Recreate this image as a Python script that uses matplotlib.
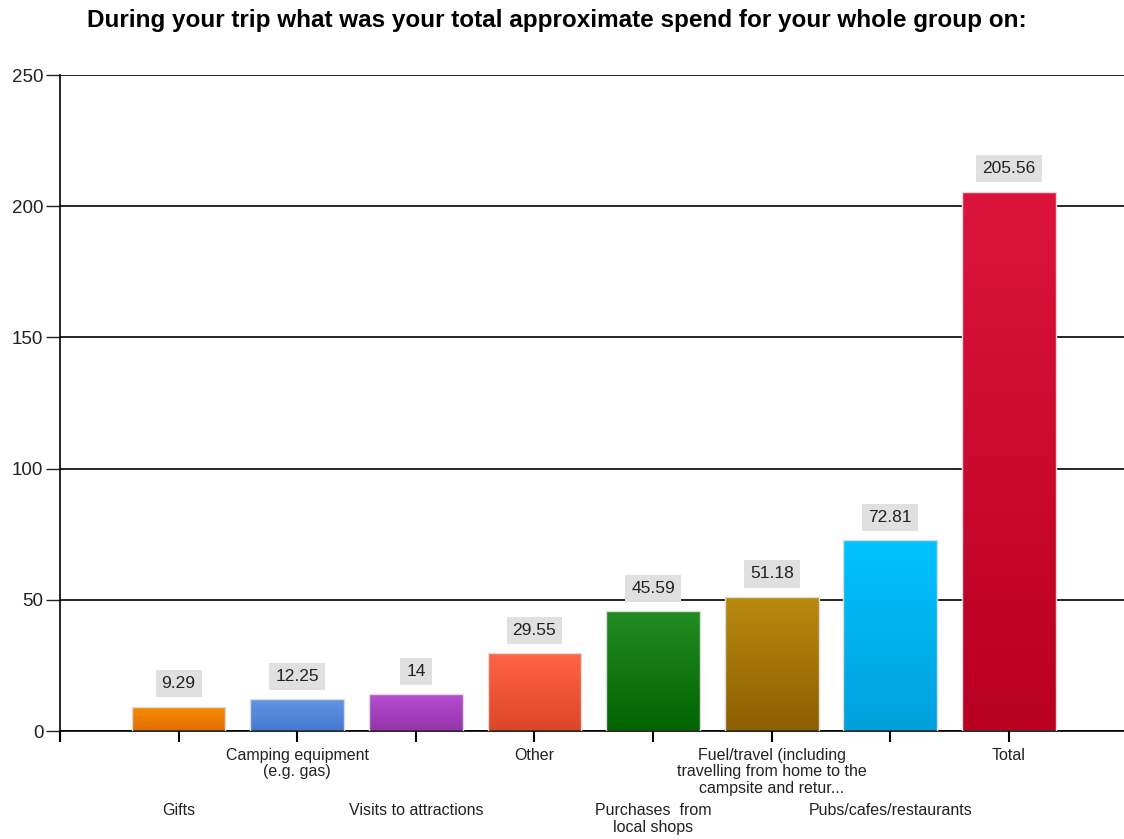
import numpy as np
import matplotlib.pyplot as plt
from matplotlib.colors import LinearSegmentedColormap

plt.rcParams['font.family'] = ['Liberation Sans', 'DejaVu Sans']

categories = ['Gifts', 'Camping equipment\n(e.g. gas)', 'Visits to attractions', 'Other',
              'Purchases  from\nlocal shops',
              'Fuel/travel (including\ntravelling from home to the\ncampsite and retur...',
              'Pubs/cafes/restaurants', 'Total']
values = [9.29, 12.25, 14, 29.55, 45.59, 51.18, 72.81, 205.56]

# top / bottom colour of each bar's gradient
top_colors = ['#f78c00', '#6496e6', '#b450d2', '#ff6446', '#238c23', '#b98a0f', '#00c3ff', '#dc143c']
bottom_colors = ['#e06e00', '#4678cd', '#9632aa', '#dc4628', '#006400', '#8c5f00', '#00a0dc', '#b90020']

fig = plt.figure(figsize=(11.24, 8.39), dpi=100)
ax = fig.add_axes([60 / 1124, 1 - 731 / 839, 1064 / 1124, 656 / 839])

x = np.arange(1, len(values) + 1)
width = 0.79
bars = ax.bar(x, values, width=width, color='none', edgecolor='#dcdcdc', linewidth=1, zorder=3)

# gradient fill inside each bar
grad = np.linspace(0, 1, 256).reshape(-1, 1)
for bar, c_top, c_bot, v in zip(bars, top_colors, bottom_colors, values):
    cmap = LinearSegmentedColormap.from_list('g', [c_bot, c_top])
    x0 = bar.get_x()
    im = ax.imshow(grad, cmap=cmap, aspect='auto', origin='lower',
                   extent=(x0, x0 + bar.get_width(), 0, v), zorder=2)
    im.set_clip_path(bar)
    ax.text(bar.get_x() + bar.get_width() / 2, v + 5.8, f'{v:g}', ha='center', va='bottom',
            fontsize=12.5, color='#222222', zorder=4,
            bbox=dict(boxstyle='square,pad=0.35', fc='#e0e0e0', ec='none'))

ax.set_xlim(0, 8.97)
ax.set_ylim(0, 250)
ax.set_yticks(range(0, 251, 50))
ax.tick_params(axis='y', length=10, width=1, labelsize=13.5, pad=2, colors='#222222')
ax.yaxis.grid(True, color='black', linewidth=1.2)
ax.set_axisbelow(True)

ax.set_xticks(np.arange(0, len(values) + 1))
ax.set_xticklabels([''] + categories, fontsize=11.5, color='#222222')
ax.tick_params(axis='x', length=8, width=1.5)
for i, tick in enumerate(ax.xaxis.get_major_ticks()[1:]):
    tick.set_pad(4 if i % 2 == 1 else 44)
    tick.label1.set_linespacing(1.15)

for s in ['top', 'right']:
    ax.spines[s].set_visible(False)
ax.spines['left'].set_linewidth(1.2)
ax.spines['bottom'].set_linewidth(1.2)
ax.spines['left'].set_bounds(0, 250)

fig.text(557 / 1124, 1 - 20 / 839, 'During your trip what was your total approximate spend for your whole group on:',
         ha='center', va='center', fontsize=17.5, fontweight='bold')

fig.savefig('out.png', dpi=100)
